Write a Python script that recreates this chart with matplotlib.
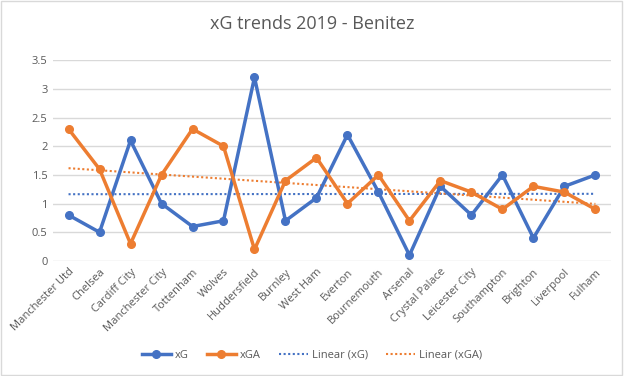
import numpy as np
import matplotlib.pyplot as plt
from matplotlib.patches import Rectangle

teams = ["Manchester Utd", "Chelsea", "Cardiff City", "Manchester City", "Tottenham",
         "Wolves", "Huddersfield", "Burnley", "West Ham", "Everton", "Bournemouth",
         "Arsenal", "Crystal Palace", "Leicester City", "Southampton", "Brighton",
         "Liverpool", "Fulham"]
xg = [0.8, 0.5, 2.1, 1.0, 0.6, 0.7, 3.2, 0.7, 1.1, 2.2, 1.2, 0.1, 1.3, 0.8, 1.5, 0.4, 1.3, 1.5]
xga = [2.3, 1.6, 0.3, 1.5, 2.3, 2.0, 0.2, 1.4, 1.8, 1.0, 1.5, 0.7, 1.4, 1.2, 0.9, 1.3, 1.2, 0.9]

blue = "#4472C4"
orange = "#ED7D31"
txt = "#595959"

plt.rcParams['font.family'] = ['Open Sans', 'DejaVu Sans']

fig = plt.figure(figsize=(6.24, 3.76), dpi=100)
ax = fig.add_axes([0.085, 0.306, 0.894, 0.534])

x = np.arange(len(teams))
ax.plot(x, xg, color=blue, lw=2.5, marker='o', ms=5.5, label='xG', zorder=3)
ax.plot(x, xga, color=orange, lw=2.5, marker='o', ms=5.5, label='xGA', zorder=3)

# linear trend lines (like Excel's)
p1 = np.polyfit(x, xg, 1)
p2 = np.polyfit(x, xga, 1)
ax.plot(x, np.polyval(p1, x), color=blue, lw=1.5, ls=(0, (1, 1.2)), label='Linear (xG)', zorder=2)
ax.plot(x, np.polyval(p2, x), color=orange, lw=1.5, ls=(0, (1, 1.2)), label='Linear (xGA)', zorder=2)

ax.set_xlim(-0.5, len(teams) - 0.5)
ax.set_ylim(0, 3.5)
ax.set_yticks(np.arange(0, 3.51, 0.5))
ax.set_yticklabels(['0', '0.5', '1', '1.5', '2', '2.5', '3', '3.5'])
ax.set_xticks(x)
ax.set_xticklabels(teams, rotation=45, ha='right', rotation_mode='anchor')
ax.tick_params(axis='both', length=0, labelsize=8, colors=txt, pad=4)
ax.grid(axis='y', color='#D9D9D9', lw=1)
ax.set_axisbelow(True)
for s in ax.spines.values():
    s.set_visible(False)

fig.text(0.5, 0.935, 'xG trends 2019 - Benitez', ha='center', va='center', fontsize=13, color=txt)

fig.legend(loc='center', bbox_to_anchor=(0.5, 0.055), ncol=4, frameon=False,
           fontsize=8, labelcolor=txt, handlelength=2.6, handletextpad=0.4, columnspacing=1.6)

fig.patches.append(Rectangle((0.002, 0.003), 0.995, 0.994, transform=fig.transFigure,
                             fill=False, edgecolor='#D9D9D9', lw=1))

fig.savefig('out.png', dpi=100)
